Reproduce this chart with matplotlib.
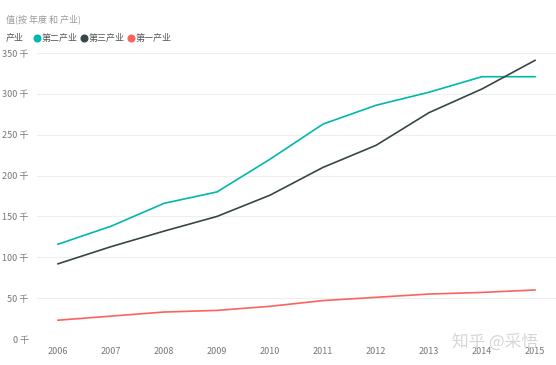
import matplotlib
matplotlib.use("Agg")
import matplotlib.pyplot as plt
from matplotlib.lines import Line2D

plt.rcParams['font.family'] = ['Noto Sans CJK SC', 'DejaVu Sans']

years = [2006, 2007, 2008, 2009, 2010, 2011, 2012, 2013, 2014, 2015]
secondary = [116, 138, 166, 180, 220, 263, 286, 302, 321, 321]
tertiary = [92, 113, 132, 150, 176, 210, 237, 277, 306, 341]
primary = [23, 28, 33, 35, 40, 47, 51, 55, 57, 60]
series_names = ['第二产业', '第三产业', '第一产业']
colors = ['#01B8AA', '#374649', '#FD625E']
yticks = [0, 50, 100, 150, 200, 250, 300, 350]

fig = plt.figure(figsize=(5.56, 3.65), dpi=100)
ax = fig.add_axes([37/556, 26/365, 519/556, 286/365])

for vals, c in zip([secondary, tertiary, primary], colors):
    ax.plot(years, vals, color=c, lw=1.2)

ax.set_xlim(2006 - 21/53, 2015 + 21/53)
ax.set_ylim(0, 350)
ax.set_yticks(yticks)
ax.set_yticklabels([f'{v} 千' for v in yticks])
ax.set_xticks(years)
ax.set_xticklabels([str(y) for y in years])
ax.tick_params(length=0, labelsize=6.5, colors='#777777')
ax.tick_params(axis='y', pad=6)
ax.tick_params(axis='x', pad=6)
ax.grid(axis='y', color='#eeeeee', lw=0.8)
for s in ax.spines.values():
    s.set_visible(False)

fig.text(6/556, 1 - 19/365, '值(按 年度 和 产业)', fontsize=6.5, color='#999999', va='center')
fig.text(6/556, 1 - 38/365, '产业', fontsize=6.5, color='#555555', va='center')
x = 37
for name, c in zip(series_names, colors):
    fig.add_artist(Line2D([x/556], [1 - 38/365], marker='o', markersize=4.8,
                          color=c, transform=fig.transFigure))
    fig.text((x + 5)/556, 1 - 38/365, name, fontsize=6.5, color='#555555', va='center')
    x += 47

fig.text(452/556, 1 - 342/365, '知乎 @采悟', fontsize=12, color='#cccccc', va='center', alpha=0.8)

fig.savefig('out.png', dpi=100)
